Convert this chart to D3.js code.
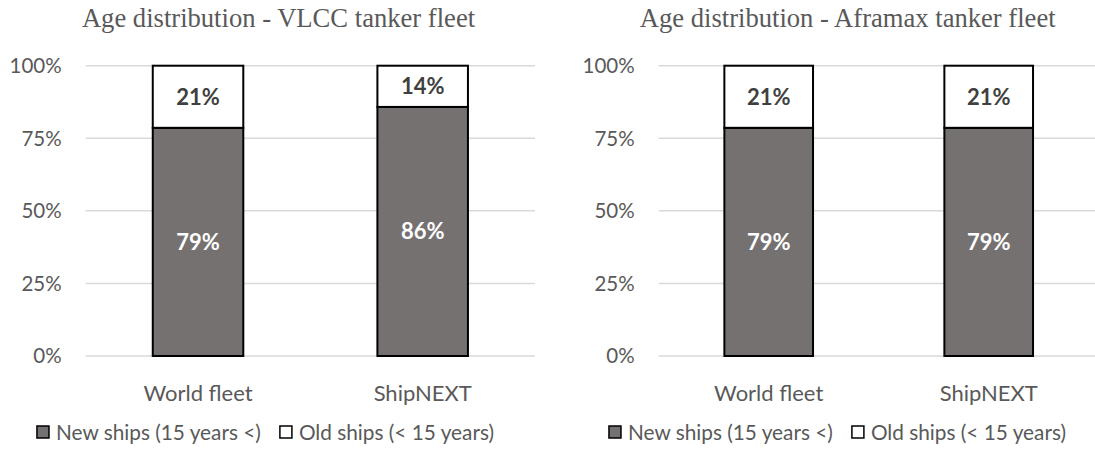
<!DOCTYPE html>
<html>
<head>
<meta charset="utf-8">
<script src="https://cdn.jsdelivr.net/npm/d3@7"></script>
<style>
  body { margin: 0; background: #fff; }
  text { font-family: Lato, "Open Sans", sans-serif; }
</style>
</head>
<body>
<div id="chart"></div>
<script>
// donnees
var categories = ["World fleet", "ShipNEXT"];
var seriesNames = ["New ships (15 years <)", "Old ships (< 15 years)"];
var vlccNew = [78.6, 85.8],
    vlccOld = [21.4, 14.2];
var aframaxNew = [78.6, 78.6],
    aframaxOld = [21.4, 21.4];
var yTicks = [0, 25, 50, 75, 100];
var titles = ["Age distribution - VLCC tanker fleet", "Age distribution - Aframax tanker fleet"];

var width = 1095, height = 454;
var svg = d3.select("#chart").append("svg")
  .attr("width", width).attr("height", height);

var fills = ["#767171", "#ffffff"],
    labelColors = ["#ffffff", "#404040"];

function drawChart(opts) {
  var g = svg.append("g");
  var x = d3.scaleBand().domain(categories).range([opts.left, opts.right]).paddingInner(0.597).paddingOuter(0.2985);
  var y = d3.scaleLinear().domain([0, 100]).range([356, 65.7]);

  // titre
  g.append("text")
    .attr("x", opts.titleX).attr("y", 27)
    .attr("text-anchor", "middle")
    .style("font-family", "'Liberation Serif', 'Times New Roman', serif")
    .style("font-size", "26.6px")
    .style("fill", "#595959")
    .text(opts.title);

  // grille
  g.selectAll("line.grid").data(yTicks).enter().append("line")
    .attr("class", "grid")
    .attr("x1", opts.left).attr("x2", opts.right)
    .attr("y1", d => y(d)).attr("y2", d => y(d))
    .style("stroke", "#d9d9d9").style("stroke-width", 1.5);

  g.selectAll("text.ytick").data(yTicks).enter().append("text")
    .attr("class", "ytick")
    .attr("x", opts.left - 24).attr("y", d => y(d))
    .attr("dy", "0.36em")
    .attr("text-anchor", "end")
    .style("font-size", "20.5px").style("fill", "#595959")
    .text(d => d + "%");

  // empilement
  var rows = categories.map((c, i) => ({cat: c, s0: opts.newVals[i], s1: opts.oldVals[i]}));
  var stack = d3.stack().keys(["s0", "s1"])(rows);

  var layer = g.selectAll("g.layer").data(stack).enter().append("g").attr("class", "layer");
  layer.selectAll("rect").data((d, k) => d.map(p => ({p: p, k: k}))).enter().append("rect")
    .attr("x", d => x(d.p.data.cat))
    .attr("width", x.bandwidth())
    .attr("y", d => y(d.p[1]))
    .attr("height", d => y(d.p[0]) - y(d.p[1]))
    .style("fill", d => fills[d.k])
    .style("stroke", "#000").style("stroke-width", 2);

  layer.selectAll("text").data((d, k) => d.map(p => ({p: p, k: k}))).enter().append("text")
    .attr("x", d => x(d.p.data.cat) + x.bandwidth() / 2)
    .attr("y", d => (y(d.p[0]) + y(d.p[1])) / 2)
    .attr("dy", "0.36em")
    .attr("text-anchor", "middle")
    .style("font-size", "22px").style("font-weight", "bold")
    .style("fill", d => labelColors[d.k])
    .text(d => Math.round(d.p[1] - d.p[0]) + "%");

  // categories
  g.selectAll("text.cat").data(categories).enter().append("text")
    .attr("class", "cat")
    .attr("x", d => x(d) + x.bandwidth() / 2).attr("y", 401)
    .attr("text-anchor", "middle")
    .style("font-size", "22px").style("fill", "#595959")
    .text(d => d);

  // legende
  var leg = g.append("g");
  var xpos = 0;
  seriesNames.forEach(function(name, i) {
    var it = leg.append("g").attr("transform", "translate(" + xpos + ",0)");
    it.append("rect").attr("x", 0).attr("y", 426).attr("width", 12).attr("height", 12)
      .style("fill", fills[i]).style("stroke", "#000").style("stroke-width", 1.5);
    var t = it.append("text").attr("x", 19).attr("y", 440)
      .style("font-size", "20.8px").style("fill", "#595959").text(name);
    xpos += 19 + t.node().getComputedTextLength() + 19;
  });
  var lw = xpos - 19;
  leg.attr("transform", "translate(" + (opts.legendCenter - lw / 2) + ",0)");
}

drawChart({left: 85.7, right: 535, titleX: 278.5, legendCenter: 265.5,
  title: titles[0], newVals: vlccNew, oldVals: vlccOld});
drawChart({left: 658.7, right: 1098.7, titleX: 847.7, legendCenter: 837.5,
  title: titles[1], newVals: aframaxNew, oldVals: aframaxOld});
</script>
</body>
</html>
